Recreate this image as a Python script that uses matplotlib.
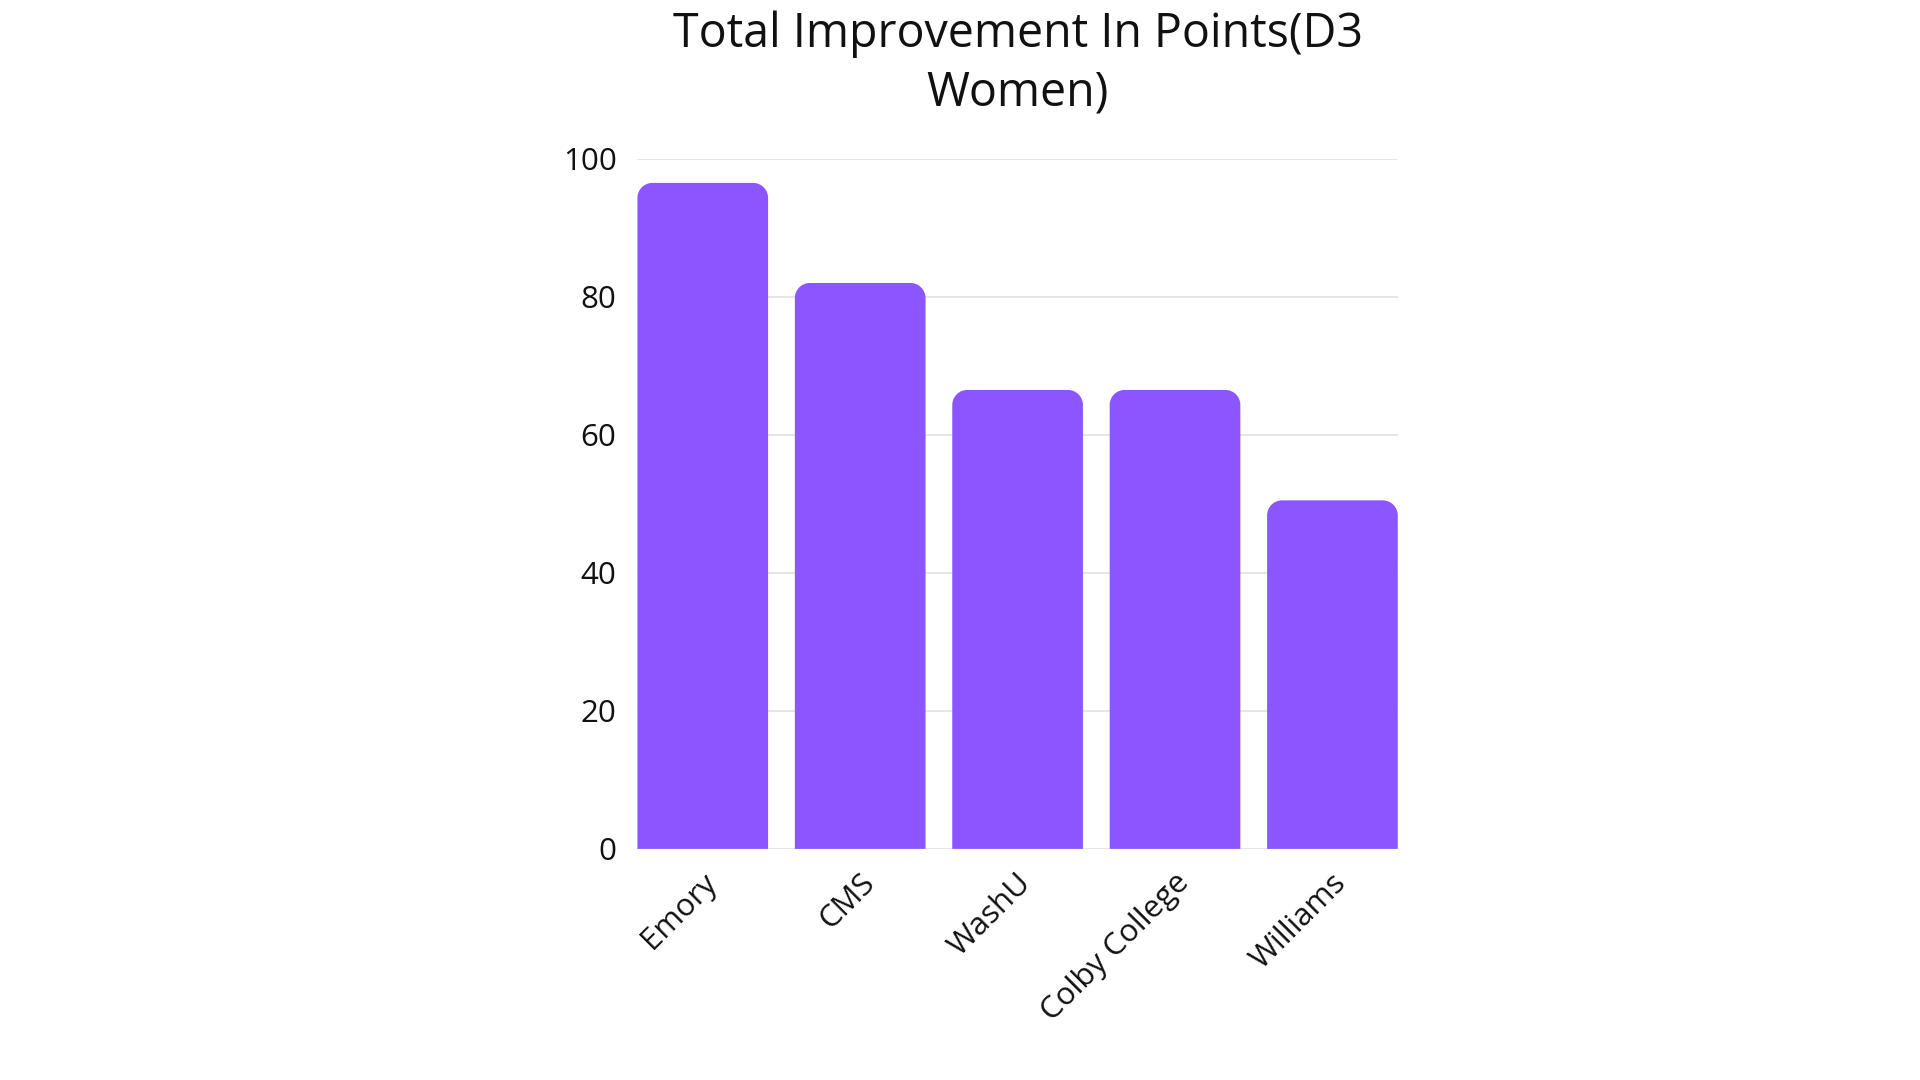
import matplotlib
matplotlib.use("Agg")
import matplotlib.pyplot as plt
from matplotlib.path import Path
from matplotlib.patches import PathPatch
import matplotlib.transforms as mtransforms

categories = ["Emory", "CMS", "WashU", "Colby College", "Williams"]
values = [96.5, 82, 66.5, 66.5, 50.5]
yticks = [0, 20, 40, 60, 80, 100]
title = "Total Improvement In Points(D3\nWomen)"

bar_color = "#8B55FF"
grid_color = "#E2E2E2"
font = ["Open Sans", "DejaVu Sans"]
plt.rcParams["font.family"] = font

fig = plt.figure(figsize=(19.2, 10.8), dpi=100)
ax = fig.add_axes([0.332, 0.214, 0.396, 0.639])

width = 0.83
xlim = (-width / 2, len(categories) - 1 + width / 2)
ax.set_xlim(*xlim)
ax.set_ylim(0, 100)

# rounded-top bars: corner radius in pixels converted to data units
fig.canvas.draw()
bbox = ax.get_window_extent()
r_px = 15
rx = r_px * (xlim[1] - xlim[0]) / bbox.width
ry = r_px * 100 / bbox.height
k = 0.5523
for i, v in enumerate(values):
    x0, x1 = i - width / 2, i + width / 2
    verts = [
        (x0, 0), (x0, v - ry),
        (x0, v - ry + k * ry), (x0 + rx - k * rx, v), (x0 + rx, v),
        (x1 - rx, v),
        (x1 - rx + k * rx, v), (x1, v - ry + k * ry), (x1, v - ry),
        (x1, 0), (x0, 0),
    ]
    codes = [Path.MOVETO, Path.LINETO,
             Path.CURVE4, Path.CURVE4, Path.CURVE4,
             Path.LINETO,
             Path.CURVE4, Path.CURVE4, Path.CURVE4,
             Path.LINETO, Path.CLOSEPOLY]
    ax.add_patch(PathPatch(Path(verts, codes), facecolor=bar_color,
                           edgecolor="none", zorder=3))

ax.set_yticks(yticks)
ax.set_yticklabels([str(t) for t in yticks], fontsize=22.5, color="#111111")
ax.yaxis.grid(True, color=grid_color, linewidth=1.2, zorder=0)
ax.tick_params(axis="y", length=0, pad=15)
ax.set_xticks(range(len(categories)))
ax.set_xticklabels([])
ax.tick_params(axis="x", length=0)
for s in ax.spines.values():
    s.set_visible(False)

offset = mtransforms.ScaledTranslation(-1 / 100, -19 / 100, fig.dpi_scale_trans)
for i, c in enumerate(categories):
    ax.text(i, 0, c, rotation=45, ha="right", va="top", rotation_mode="anchor",
            fontsize=22.5, color="#111111",
            transform=ax.transData + offset)

fig.text(0.530, 0.990, title, ha="center", va="top", fontsize=33.5,
         color="#111111", linespacing=1.3)

fig.savefig("out.png", dpi=100, facecolor="white")
